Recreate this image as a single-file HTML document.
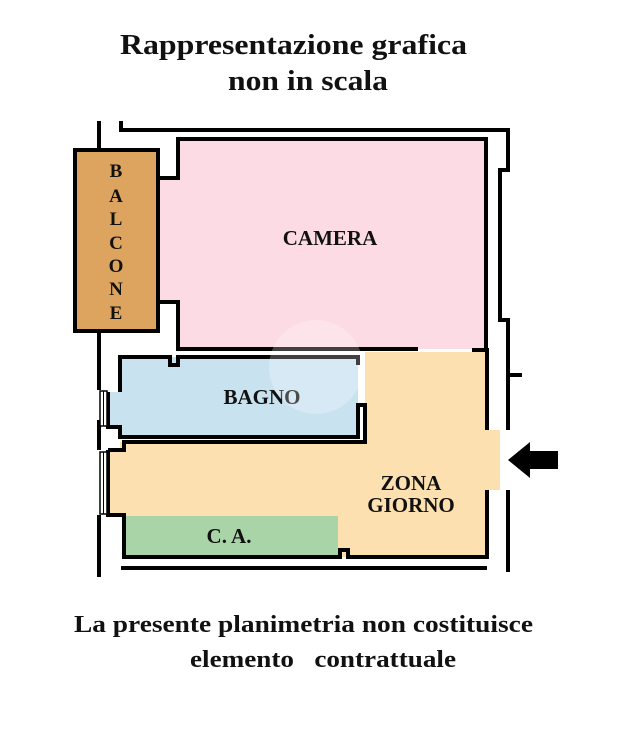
<!DOCTYPE html>
<html><head><style>
html,body{margin:0;padding:0;background:#fff;}
svg{display:block;}
text{font-family:"Liberation Serif",serif;font-weight:bold;fill:#111;}
</style></head><body>
<svg width="636" height="732" viewBox="0 0 636 732" xmlns="http://www.w3.org/2000/svg">
<text x="120" y="54" font-size="28" textLength="347" lengthAdjust="spacingAndGlyphs">Rappresentazione grafica</text>
<text x="228" y="90" font-size="28" textLength="160" lengthAdjust="spacingAndGlyphs">non in scala</text>

<rect x="75" y="150" width="83" height="181" fill="#dca45f"/>
<rect x="178" y="139" width="308" height="210" fill="#fcdbe4"/>
<rect x="160" y="178" width="20" height="124" fill="#fcdbe4"/>
<polygon points="108,392 120,392 120,357 358,357 358,437 120,437 120,427 108,427" fill="#c8e2f0"/>
<polygon points="365,352 487,352 487,430 500,430 500,490 487,490 487,557 124,557 124,516 108,516 108,450 120,450 120,442 365,442" fill="#fde0b0"/>
<rect x="124" y="516" width="214" height="41" fill="#a9d4a8"/>

<g fill="none" stroke="#000" stroke-width="4">
<rect x="75" y="150" width="83" height="181"/>
<line x1="99" y1="121" x2="99" y2="150"/>
<line x1="99" y1="331" x2="99" y2="390"/>
<line x1="99" y1="420" x2="99" y2="450"/>
<line x1="99" y1="515" x2="99" y2="577"/>
<polyline points="121,121 121,130 508,130 508,170 500,170 500,320 508,320 508,430"/>
<polyline points="160,178 178,178 178,139 486,139 486,349"/>
<polyline points="160,302 178,302 178,349 418,349"/>
<polyline points="472,350 487,350 487,430"/>
<line x1="508" y1="375" x2="522" y2="375"/>
<polyline points="120,392 120,357 170,357 170,365 178,365 178,357 358,357 358,365"/>
<polyline points="108,392 108,427 120,427 120,437 358,437 358,405 365,405 365,442 124,442 124,450 108,450"/>
<polyline points="108,450 108,515 124,515 124,557 340,557 340,550 348,550 348,557 487,557 487,490"/>
<line x1="121" y1="568" x2="487" y2="568"/>
<line x1="508" y1="490" x2="508" y2="572"/>
</g>
<g stroke="#000" stroke-width="1.5" fill="#fff">
<rect x="100" y="391" width="7" height="35"/>
<rect x="100" y="452" width="7" height="62"/>
</g>
<line x1="103.5" y1="391" x2="103.5" y2="426" stroke="#000" stroke-width="1"/>
<line x1="103.5" y1="452" x2="103.5" y2="514" stroke="#000" stroke-width="1"/>

<polygon points="508,460 530,442 530,451 558,451 558,469 530,469 530,478" fill="#000"/>

<g font-size="19" text-anchor="middle">
<text x="116" y="177">B</text><text x="116" y="202">A</text><text x="116" y="225">L</text>
<text x="116" y="249">C</text><text x="116" y="272">O</text><text x="116" y="295">N</text><text x="116" y="319">E</text>
</g>
<g font-size="21" text-anchor="middle">
<text x="330" y="245">CAMERA</text>
<text x="262" y="404">BAGNO</text>
<text x="411" y="490">ZONA</text>
<text x="411" y="512">GIORNO</text>
<text x="229" y="543">C. A.</text>
</g>
<circle cx="316" cy="367" r="47" fill="#fff" opacity="0.25"/>

<text x="74" y="632" font-size="24" textLength="459" lengthAdjust="spacingAndGlyphs">La presente planimetria non costituisce</text>
<text x="190" y="667" font-size="24" textLength="266" lengthAdjust="spacingAndGlyphs" xml:space="preserve">elemento   contrattuale</text>
</svg>
</body></html>
